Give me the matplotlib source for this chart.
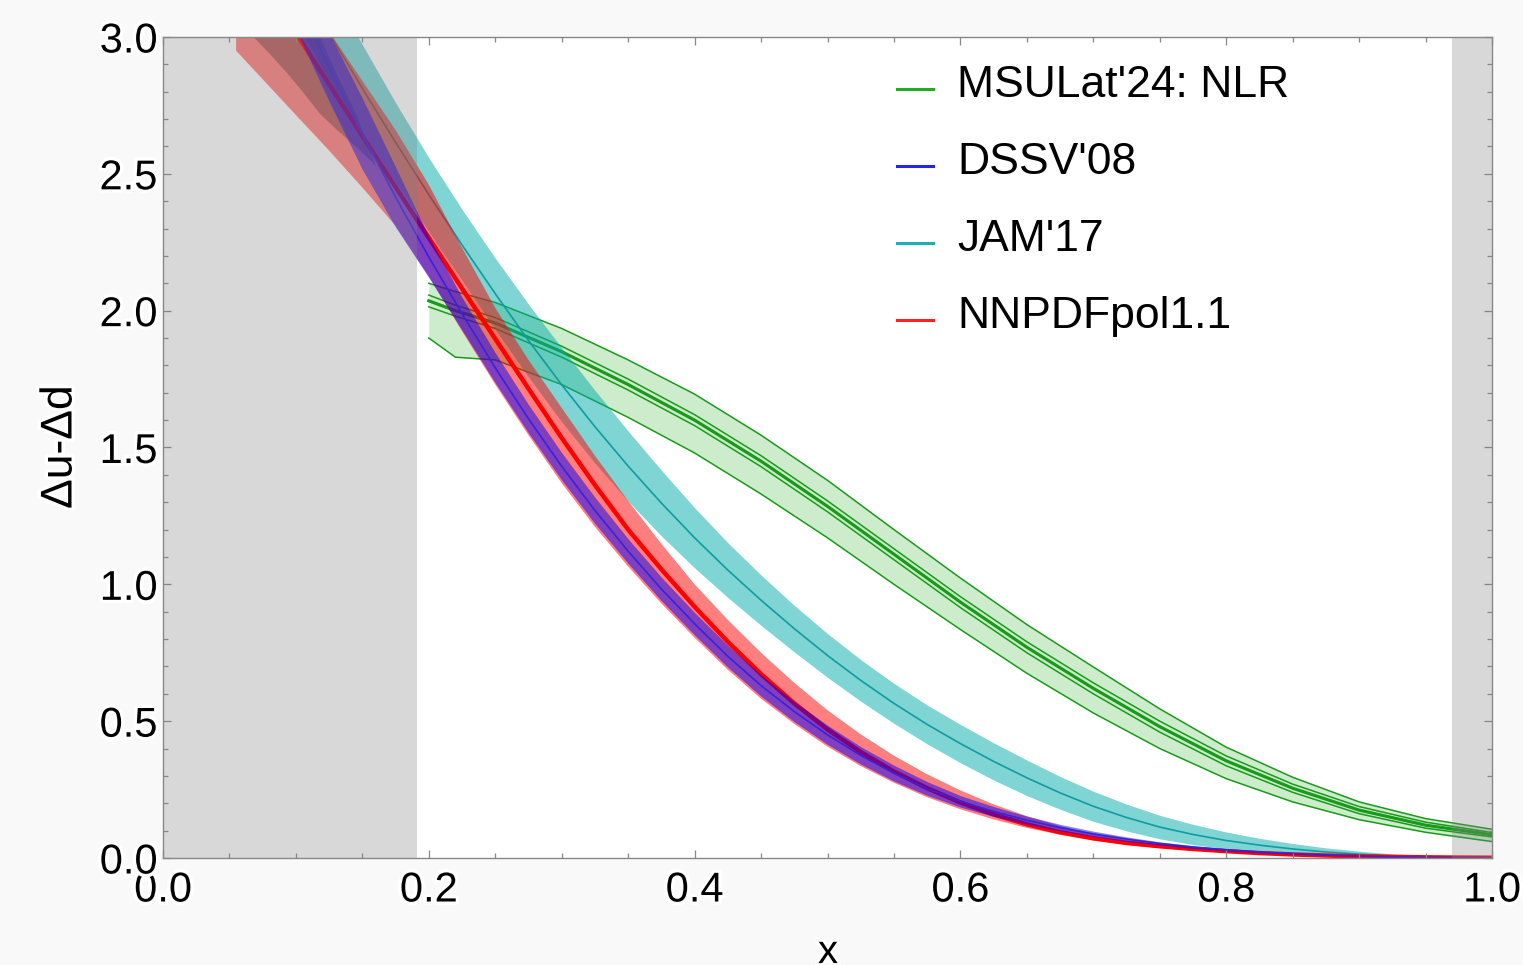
import numpy as np
import matplotlib.pyplot as plt
import matplotlib.patheffects as pe
from matplotlib.lines import Line2D
from matplotlib.ticker import MultipleLocator

plt.rcParams['font.family'] = ['Liberation Sans', 'DejaVu Sans']

# ---- data ----
x_grid = [0.100, 0.125, 0.150, 0.175, 0.200, 0.225, 0.250, 0.275, 0.300, 0.325,
          0.350, 0.375, 0.400, 0.425, 0.450, 0.475, 0.500, 0.525, 0.550, 0.575,
          0.600, 0.625, 0.650, 0.675, 0.700, 0.725, 0.750, 0.775, 0.800, 0.825,
          0.850, 0.875, 0.900, 0.925, 0.950, 0.975, 1.000]

# JAM'17
jam_mid = [3.224, 3.015, 2.812, 2.615, 2.424, 2.240, 2.062, 1.891, 1.729, 1.576,
           1.432, 1.297, 1.170, 1.052, 0.942, 0.838, 0.740, 0.649, 0.565, 0.488,
           0.418, 0.353, 0.293, 0.238, 0.189, 0.148, 0.113, 0.086, 0.064, 0.047,
           0.033, 0.022, 0.014, 0.008, 0.004, 0.0015, 0.0]
jam_err = [0.17, 0.17, 0.16, 0.145, 0.135, 0.13, 0.13, 0.133, 0.135, 0.133,
           0.128, 0.12, 0.11, 0.10, 0.092, 0.085, 0.08, 0.076, 0.073, 0.071,
           0.07, 0.068, 0.065, 0.06, 0.055, 0.049, 0.043, 0.037, 0.031, 0.025,
           0.02, 0.015, 0.011, 0.007, 0.004, 0.0015, 0.0]

# DSSV'08
dssv_mid = [3.146, 2.890, 2.646, 2.415, 2.196, 1.989, 1.791, 1.605, 1.431, 1.270,
            1.121, 0.983, 0.856, 0.737, 0.630, 0.535, 0.450, 0.375, 0.310, 0.254,
            0.207, 0.170, 0.138, 0.111, 0.088, 0.069, 0.053, 0.040, 0.030, 0.022,
            0.016, 0.011, 0.007, 0.004, 0.002, 0.001, 0.0]
dssv_err = [0.12, 0.125, 0.13, 0.11, 0.075, 0.06, 0.055, 0.052, 0.05, 0.048,
            0.045, 0.043, 0.041, 0.04, 0.039, 0.037, 0.035, 0.032, 0.029, 0.025,
            0.021, 0.018, 0.015, 0.012, 0.01, 0.008, 0.006, 0.005, 0.004, 0.003,
            0.002, 0.0015, 0.001, 0.0005, 0.0, 0.0, 0.0]

# NNPDFpol1.1 (band starts a little further left)
x_nn = [0.055] + x_grid
nn_mid = [3.40, 3.015, 2.827, 2.639, 2.452, 2.266, 2.081, 1.897, 1.715, 1.535,
          1.363, 1.200, 1.055, 0.918, 0.790, 0.672, 0.565, 0.470, 0.387, 0.316,
          0.255, 0.203, 0.159, 0.123, 0.094, 0.072, 0.055, 0.043, 0.033, 0.025,
          0.018, 0.013, 0.009, 0.006, 0.004, 0.0025, 0.0015, 0.001]
nn_lo = [2.95, 2.715, 2.585, 2.45, 2.31, 2.125, 1.925, 1.73, 1.545, 1.37,
         1.21, 1.065, 0.93, 0.805, 0.688, 0.582, 0.49, 0.407, 0.336, 0.275,
         0.222, 0.178, 0.141, 0.110, 0.085, 0.064, 0.048, 0.036, 0.027, 0.02,
         0.014, 0.01, 0.007, 0.0045, 0.003, 0.002, 0.001, 0.0]
nn_hi = [3.60, 3.22, 3.02, 2.84, 2.66, 2.46, 2.23, 2.01, 1.82, 1.645,
         1.47, 1.305, 1.148, 1.0, 0.87, 0.75, 0.64, 0.54, 0.452, 0.374,
         0.306, 0.247, 0.196, 0.153, 0.117, 0.088, 0.066, 0.05, 0.038, 0.029,
         0.021, 0.015, 0.011, 0.008, 0.005, 0.003, 0.002, 0.001]
# darker overlap patch inside the NNPDF band at small x
x_nn_dark = [0.068, 0.08, 0.093, 0.105, 0.118, 0.131, 0.145, 0.16]
nn_dark_lo = [3.0, 2.94, 2.87, 2.80, 2.72, 2.66, 2.60, 2.53]
nn_dark_hi = [3.2, 3.2, 3.2, 3.15, 3.0, 2.86, 2.72, 2.53]

# MSULat'24: NLR
x_lat = [0.20, 0.22, 0.25, 0.30, 0.35, 0.40, 0.45, 0.50, 0.55, 0.60,
         0.65, 0.70, 0.75, 0.80, 0.85, 0.90, 0.95, 1.00]
lat_mid = [2.036, 2.00, 1.955, 1.85, 1.73, 1.60, 1.45, 1.285, 1.11, 0.935,
           0.77, 0.62, 0.48, 0.355, 0.255, 0.175, 0.12, 0.085]
lat_hi = [2.10, 2.07, 2.03, 1.935, 1.82, 1.695, 1.545, 1.38, 1.20, 1.023,
          0.853, 0.698, 0.545, 0.405, 0.295, 0.205, 0.144, 0.105]
lat_lo = [1.90, 1.83, 1.82, 1.73, 1.61, 1.48, 1.33, 1.17, 1.00, 0.835,
          0.675, 0.53, 0.40, 0.29, 0.205, 0.14, 0.094, 0.06]
lat_in_hi = [2.057, 2.02, 1.975, 1.87, 1.75, 1.62, 1.47, 1.305, 1.13, 0.955,
             0.79, 0.64, 0.50, 0.373, 0.27, 0.188, 0.131, 0.093]
lat_in_lo = [2.014, 1.98, 1.935, 1.83, 1.71, 1.58, 1.43, 1.265, 1.09, 0.915,
             0.75, 0.60, 0.46, 0.337, 0.24, 0.162, 0.109, 0.077]

excluded = [(0.0, 0.191), (0.970, 1.0)]

legend_labels = ["MSULat'24: NLR", "DSSV'08", "JAM'17", "NNPDFpol1.1"]
legend_colors = ['#22aa22', '#2424e6', '#1fb0b0', '#ff2020']

# ---- figure ----
fig = plt.figure(figsize=(15.23, 9.65), dpi=100, facecolor='#f9f9f9')
ax = fig.add_axes([0.10703, 0.11088, 0.87262, 0.85078])
ax.set_facecolor('white')

# MSULat band (bottom layer)
ax.fill_between(x_lat, lat_lo, lat_hi, color='#00a000', alpha=0.2, lw=0, zorder=1)
for yy in (lat_hi, lat_lo, lat_in_hi, lat_in_lo):
    ax.plot(x_lat, yy, color='#1a9a1a', lw=1.1, zorder=1.05)
ax.plot(x_lat, lat_mid, color='#1a9a1a', lw=2.3, zorder=1.05)

# JAM'17
jm = np.array(jam_mid)
je = np.array(jam_err)
ax.fill_between(x_grid, jm - je, jm + je, color='#00abab', alpha=0.5, lw=0, zorder=1.1)
ax.plot(x_grid, jam_mid, color='#109ca0', lw=1.2, zorder=1.15)

# NNPDFpol1.1
ax.fill_between(x_nn, nn_lo, nn_hi, color='red', alpha=0.5, lw=0, zorder=1.2)
ax.fill_between(x_nn_dark, nn_dark_lo, nn_dark_hi, color='#753c3c', alpha=0.5,
                lw=0, zorder=1.21)
ax.plot(x_nn, nn_mid, color='red', lw=3.2, zorder=1.25)

# DSSV'08
dm = np.array(dssv_mid)
de = np.array(dssv_err)
ax.fill_between(x_grid, dm - de, dm + de, color='#0000ff', alpha=0.5, lw=0, zorder=1.3)
ax.plot(x_grid, dssv_mid, color='#3a22d8', lw=1.2, zorder=1.35)

# shaded excluded regions drawn on top
for a, b in excluded:
    ax.axvspan(a, b, color='#808080', alpha=0.3, lw=0, zorder=1.9)

ax.set_xlim(0, 1)
ax.set_ylim(0, 3)
ax.xaxis.set_major_locator(MultipleLocator(0.2))
ax.xaxis.set_minor_locator(MultipleLocator(0.05))
ax.yaxis.set_major_locator(MultipleLocator(0.5))
ax.yaxis.set_minor_locator(MultipleLocator(0.1))
ax.xaxis.set_major_formatter(lambda v, p: f'{v:.1f}')
ax.yaxis.set_major_formatter(lambda v, p: f'{v:.1f}')
ax.tick_params(which='both', direction='in', top=True, right=True,
               color='#888888', width=0.9)
ax.tick_params(which='major', length=5.5, labelsize=30)
ax.tick_params(which='minor', length=3.5)
ax.tick_params(axis='x', pad=9)
ax.tick_params(axis='y', pad=4)
for s in ax.spines.values():
    s.set_color('#888888')
    s.set_linewidth(1.0)

halo = [pe.withStroke(linewidth=5, foreground='white')]
for lbl in ax.get_xticklabels() + ax.get_yticklabels():
    lbl.set_path_effects(halo)

# axis labels
fig.text(60 / 1523, 1 - 447 / 965, 'Δu-Δd', rotation=90, ha='center',
         va='center', fontsize=32, path_effects=halo)
fig.text(828 / 1523, 0.002, 'x', ha='center', va='baseline', fontsize=29,
         path_effects=halo)

# legend
for i, (lab, col) in enumerate(zip(legend_labels, legend_colors)):
    base = 97 + 77 * i
    yl = 1 - (base - 8) / 965
    fig.add_artist(Line2D([897 / 1523, 933 / 1523], [yl, yl], color=col, lw=2.2,
                          transform=fig.transFigure))
    fig.text(957 / 1523, 1 - base / 965, lab, fontsize=32, va='baseline', ha='left')

fig.savefig('out.png', dpi=100, facecolor=fig.get_facecolor())
